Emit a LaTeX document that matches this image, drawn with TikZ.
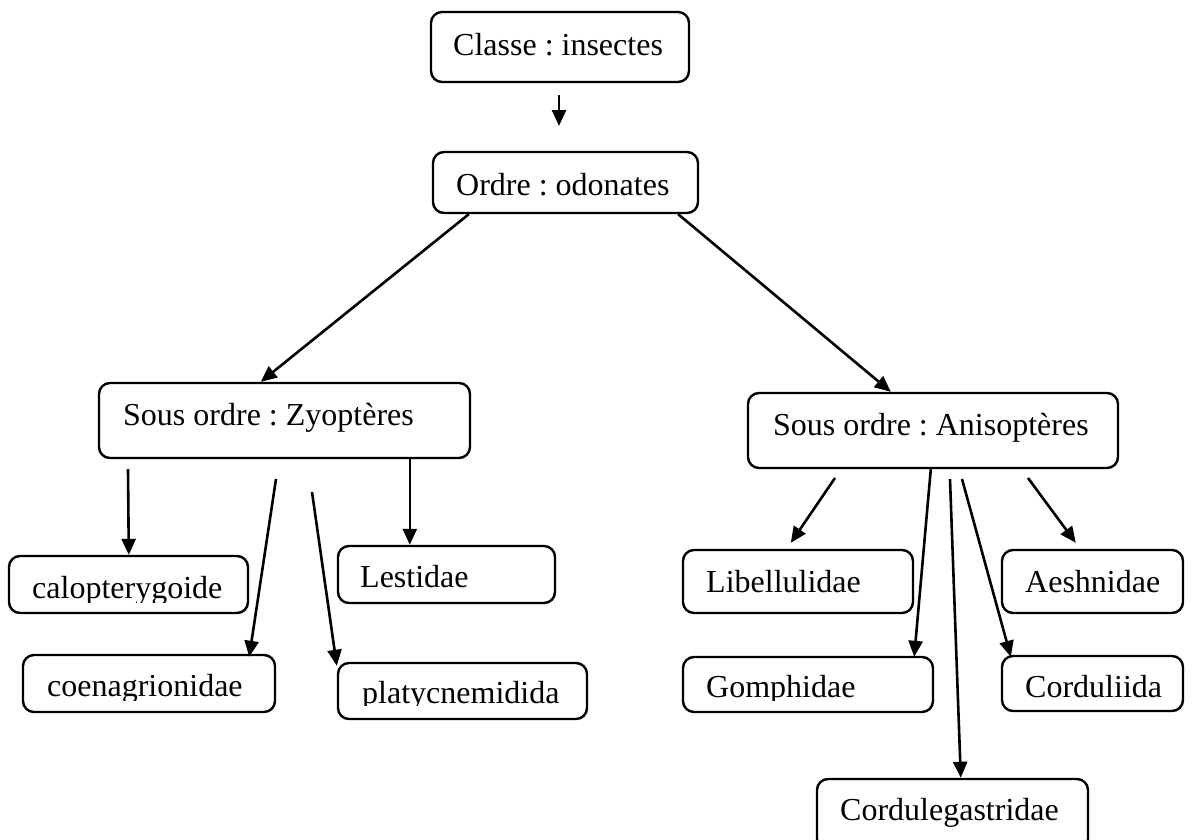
\documentclass[tikz,border=0pt]{standalone}
\usepackage{fontspec}
\setmainfont{Liberation Serif}
\usetikzlibrary{arrows.meta}
\tikzset{
  box/.style={draw, line width=2.4pt, rounded corners=11pt, inner sep=0pt},
  lbl/.style={inner sep=0pt, anchor=base west, font=\fontsize{32}{38}\selectfont\frenchspacing},
  arr/.style={line width=2.6pt, -{Triangle[length=16pt,width=14pt]}},
}
\begin{document}
\begin{tikzpicture}[x=1pt,y=-1pt]
\useasboundingbox (0,0) rectangle (1192,839);
% boxes
\node[box, minimum width=258pt, minimum height=70pt] (cls) at (560,47) {};
\node[lbl] (clst) at (453,55) {Classe : insectes};
\node[box, minimum width=265pt, minimum height=61pt] (ord) at (565.5,182.5) {};
\node[lbl] (ordt) at (456,195) {Ordre : odonates};
\node[box, minimum width=371pt, minimum height=75pt] (zyo) at (284.5,420.5) {};
\node[lbl] (zyot) at (123,425) {Sous ordre : Zyoptères};
\node[box, minimum width=370pt, minimum height=75pt] (ani) at (933,430.5) {};
\node[lbl] (anit) at (773,435) {Sous ordre : Anisoptères};
% left children
\node[box, minimum width=239pt, minimum height=57pt] (calo) at (128.5,584.5) {};
\begin{scope}
\clip (10,557) rectangle (247,602);
\node[lbl] (calot) at (32,598) {calopterygoide};
\end{scope}
\node[box, minimum width=252pt, minimum height=57pt] (coen) at (149,683.5) {};
\begin{scope}
\clip (24,656) rectangle (274,700);
\node[lbl] (coent) at (47,696) {coenagrionidae};
\end{scope}
\node[box, minimum width=217pt, minimum height=57pt] (lest) at (446.5,574.5) {};
\node[lbl] (lestt) at (360,587) {Lestidae};
\node[box, minimum width=249pt, minimum height=56pt] (platy) at (462.5,691) {};
\begin{scope}
\clip (339,664) rectangle (586,705);
\node[lbl] (platyt) at (362,703) {platycnemidida};
\end{scope}
% right children
\node[box, minimum width=230pt, minimum height=63pt] (lib) at (798,581.5) {};
\node[lbl] (libt) at (706,592) {Libellulidae};
\node[box, minimum width=250pt, minimum height=55pt] (gom) at (808,684.5) {};
\begin{scope}
\clip (684,658) rectangle (932,700);
\node[lbl] (gomt) at (706,697) {Gomphidae};
\end{scope}
\node[box, minimum width=181pt, minimum height=63pt] (aes) at (1092.5,581.5) {};
\node[lbl] (aest) at (1025,592) {Aeshnidae};
\node[box, minimum width=181pt, minimum height=55pt] (cordu) at (1092.5,683.5) {};
\node[lbl] (cordut) at (1025,697) {Corduliida};
\node[box, minimum width=271pt, minimum height=71pt] (cordg) at (952.5,814.5) {};
\node[lbl] (cordgt) at (840,820) {Cordulegastridae};
% free ends
\coordinate (a1s) at (559,95);
\coordinate (a1e) at (559,126);
\coordinate (zs1) at (128,469);
\coordinate (zs2) at (276,479);
\coordinate (zs3) at (312,492);
\coordinate (as1) at (835,478);
\coordinate (as3) at (950,479);
\coordinate (as4) at (962,479);
\coordinate (as5) at (1028,478);
% connectors
\draw[arr] (a1s) -- (a1e);
\draw[arr] ([xshift=37pt]ord.south west) -- ([xshift=163pt]zyo.north west);
\draw[arr] ([xshift=-21pt]ord.south east) -- ([xshift=144pt]ani.north west);
\draw[arr] (zs1) -- ([xshift=121pt]calo.north west);
\draw[arr] (zs2) -- ([xshift=-27pt,yshift=-3pt]coen.north east);
\draw[arr] (zs3) -- ([yshift=-4pt]platy.north west);
\draw[arr] ([xshift=312pt]zyo.south west) -- ([xshift=73pt]lest.north west);
\draw[arr] (as1) -- ([xshift=109pt,yshift=6pt]lib.north west);
\draw[arr] ([xshift=184pt]ani.south west) -- ([xshift=-20pt,yshift=-1pt]gom.north east);
\draw[arr] (as3) -- ([xshift=145pt]cordg.north west);
\draw[arr] (as4) -- ([xshift=10pt,yshift=-2pt]cordu.north west);
\draw[arr] (as5) -- ([xshift=75pt,yshift=6pt]aes.north west);
\end{tikzpicture}
\end{document}
